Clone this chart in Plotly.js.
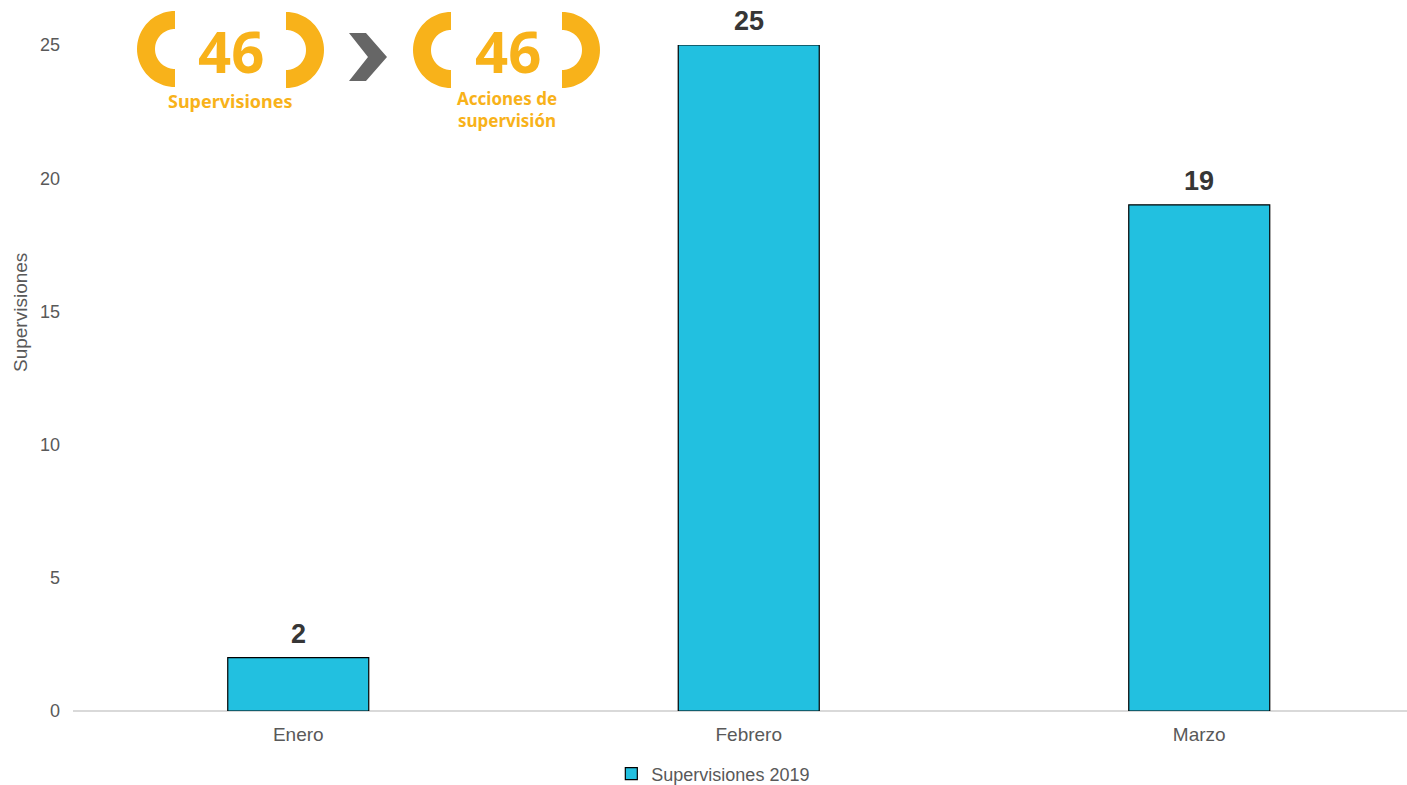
<!DOCTYPE html>
<html><head><meta charset="utf-8">
<script src="https://cdn.plot.ly/plotly-3.0.1.min.js"></script>
<style>html,body{margin:0;padding:0;background:#fff;}#chart{width:1407px;height:785px;}</style>
</head><body><div id="chart"></div>
<script>
const categories = ['Enero', 'Febrero', 'Marzo'];
const supervisiones2019 = [2, 25, 19];
const seriesName = 'Supervisiones 2019';
const yTitle = 'Supervisiones';
const yTicks = [0, 5, 10, 15, 20, 25];
const badgeValues = ['46', '46'];
const badgeLabels = ['Supervisiones', 'Acciones de<br>supervisión'];

const W = 1407, H = 785, L = 73, T = 45, B = 74;
const PW = W - L, PH = H - T - B;
const px = x => (x - L) / PW;
const py = y => (H - B - y) / PH;
const ORANGE = '#F8B21A';

function halfRing(cx, cy, rOut, rIn, side) {
  const pts = [];
  const n = 40;
  for (let i = 0; i <= n; i++) {
    const a = -Math.PI / 2 + Math.PI * i / n;
    pts.push([cx + side * rOut * Math.cos(a), cy + rOut * Math.sin(a)]);
  }
  for (let i = n; i >= 0; i--) {
    const a = -Math.PI / 2 + Math.PI * i / n;
    pts.push([cx + side * rIn * Math.cos(a), cy + rIn * Math.sin(a)]);
  }
  return 'M' + pts.map(p => px(p[0]).toFixed(5) + ',' + py(p[1]).toFixed(5)).join(' L') + ' Z';
}
function poly(pts) {
  return 'M' + pts.map(p => px(p[0]).toFixed(5) + ',' + py(p[1]).toFixed(5)).join(' L') + ' Z';
}

const shapes = [
  {type:'path', xref:'paper', yref:'paper', path: halfRing(175, 49, 38, 20, -1), fillcolor: ORANGE, line:{width:0}},
  {type:'path', xref:'paper', yref:'paper', path: halfRing(286, 50, 38, 20, 1), fillcolor: ORANGE, line:{width:0}},
  {type:'path', xref:'paper', yref:'paper', path: halfRing(451, 50, 38, 20, -1), fillcolor: ORANGE, line:{width:0}},
  {type:'path', xref:'paper', yref:'paper', path: halfRing(562, 50, 38, 20, 1), fillcolor: ORANGE, line:{width:0}},
  {type:'path', xref:'paper', yref:'paper', path: poly([[349,33],[366,33],[387,57],[366,81],[349,81],[368,57]]), fillcolor:'#666666', line:{width:0}}
];

const annotations = [];
categories.forEach((c, i) => {
  annotations.push({x: c, y: supervisiones2019[i], xref:'x', yref:'y', text: String(supervisiones2019[i]),
    showarrow:false, yanchor:'middle', yshift: 24, font:{family:'Arial, Liberation Sans', size:27, color:'#363636', weight:'bold'}});
});
annotations.push({xref:'paper', yref:'paper', x: px(20), y: py(313), text: yTitle, textangle:-90, showarrow:false,
  xanchor:'center', yanchor:'middle', font:{family:'Arial, Liberation Sans', size:19, color:'#595959'}});
const badgeX = [231, 508];
badgeValues.forEach((v, i) => {
  annotations.push({xref:'paper', yref:'paper', x: px(badgeX[i]), y: py(50), text: '<b>' + v + '</b>', showarrow:false,
    xanchor:'center', yanchor:'middle', font:{family:'Noto Sans', size:58, color: ORANGE}});
});
annotations.push({xref:'paper', yref:'paper', x: px(230), y: py(101), text: '<b>' + badgeLabels[0] + '</b>', showarrow:false,
  xanchor:'center', yanchor:'middle', font:{family:'Noto Sans', size:18, color: ORANGE}});
annotations.push({xref:'paper', yref:'paper', x: px(507), y: py(110), text: '<b>' + badgeLabels[1] + '</b>', showarrow:false,
  xanchor:'center', yanchor:'middle', font:{family:'Noto Sans', size:17, color: ORANGE}});

const trace = {
  type:'bar', x: categories, y: supervisiones2019, name: seriesName, width: 0.313,
  marker:{color:'#22C0E0', line:{color:'#000000', width:1.2}}, showlegend:true
};

const layout = {
  width: W, height: H,
  margin:{l:L, r:0, t:T, b:B, autoexpand:false},
  paper_bgcolor:'#ffffff', plot_bgcolor:'#ffffff',
  font:{family:'Arial, Liberation Sans', size:19, color:'#595959'},
  xaxis:{range:[-0.5, -0.5 + PW/450.5], showgrid:false, zeroline:false, showline:false, ticks:'',
    tickfont:{size:19, color:'#595959'}, ticklabelstandoff: 10, fixedrange:true, automargin:false},
  yaxis:{range:[0,25], tickvals: yTicks, showgrid:false, zeroline:true, zerolinecolor:'#D9D9D9', zerolinewidth:1.5,
    showline:false, ticks:'', tickfont:{size:18, color:'#595959'}, ticklabelstandoff: 12, automargin:false},
  showlegend:true,
  legend:{orientation:'h', x:0.48, xanchor:'center', y: py(774), yanchor:'middle', font:{size:18, color:'#595959'},
    itemwidth:30},
  shapes: shapes,
  annotations: annotations,
  bargap: 0.2
};
Plotly.newPlot('chart', [trace], layout, {displayModeBar:false, staticPlot:true});
</script></body></html>
